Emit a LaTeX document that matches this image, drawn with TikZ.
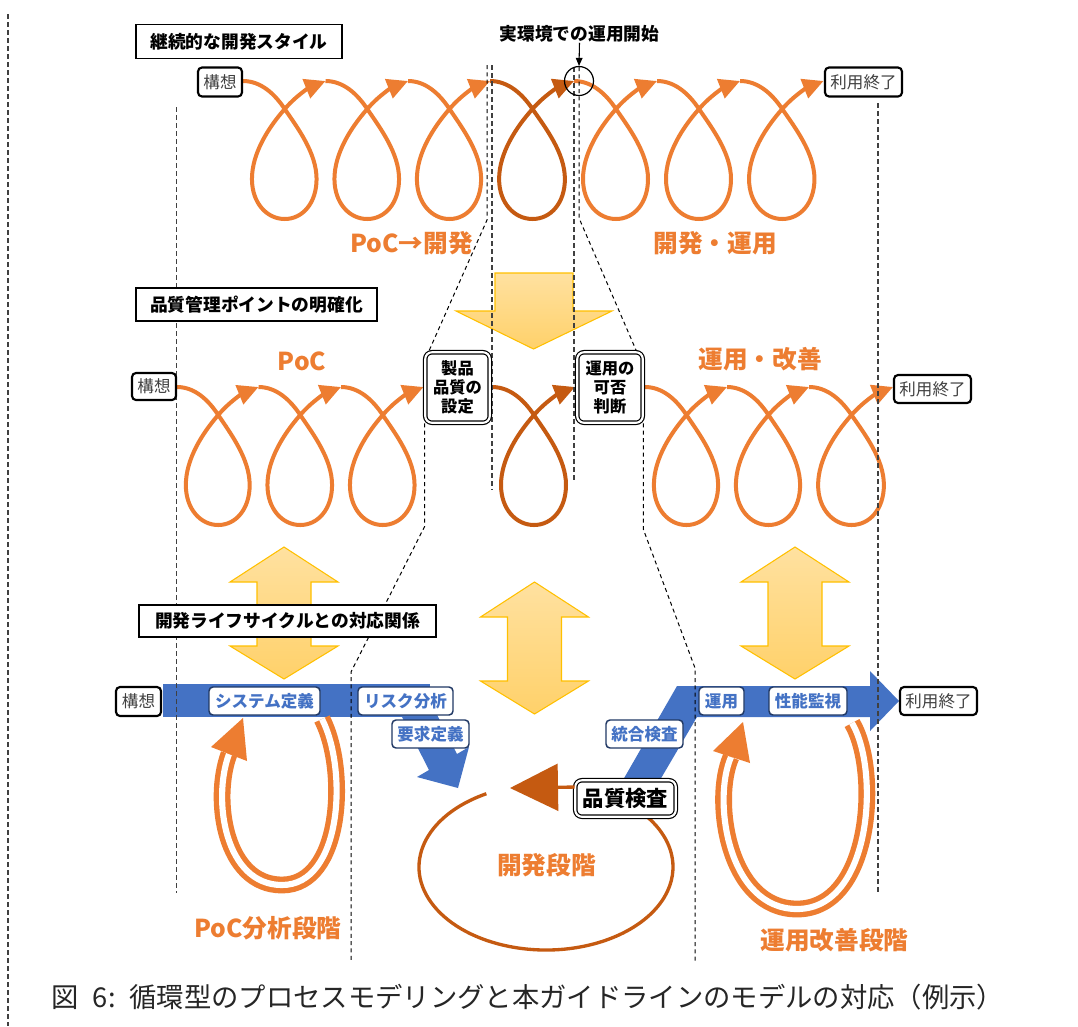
\documentclass[tikz,border=0pt]{standalone}
\usepackage{fontspec}
\setmainfont{Noto Sans CJK JP}
\usetikzlibrary{arrows.meta}
\definecolor{orangeC}{HTML}{ED7D31}
\definecolor{darkO}{HTML}{C55A11}
\definecolor{blueB}{HTML}{4472C4}
\definecolor{navyB}{HTML}{203864}
\definecolor{yTop}{HTML}{FFE1A0}
\definecolor{yBot}{HTML}{FFD16A}
\definecolor{yEdge}{HTML}{FFC000}
\definecolor{grayT}{HTML}{404040}
\definecolor{grayL}{HTML}{404040}
\pgfdeclarelayer{back}
\pgfdeclarelayer{mid}
\pgfsetlayers{back,mid,main}
\newcommand{\Spiral}[4]{%
  \begin{scope}[shift={(#1,#3)}, xscale=#2/83]
    \draw[#4] (0,0) .. controls (18,0) and (32,13) .. (42,28)
      .. controls (55,47) and (74,72) .. (74,98)
      .. controls (74,122) and (60,138) .. (42,138)
      .. controls (24,138) and (9,122) .. (9,98)
      .. controls (9,72) and (26,46) .. (42,28)
      .. controls (54,14) and (68,6) .. (83,0);
  \end{scope}}
\newcommand{\DArrow}[3]{%
  \path[yarrow] (#1,#2) -- ++(54,35) -- ++(-27,0) -- (#1+27,#3-33) -- ++(27,0)
    -- (#1,#3) -- ++(-54,-33) -- ++(27,0) -- (#1-27,#2+35) -- ++(-27,0) -- cycle;}
\tikzset{
  sz/.style 2 args={minimum width=#1*0.75pt, minimum height=#2*0.75pt},
  oloop/.style={draw=orangeC, line width=3pt, -{Triangle[length=15.5pt,width=15pt]}},
  dloop/.style={draw=darkO, line width=3pt, -{Triangle[length=15.5pt,width=15pt]}},
  yarrow/.style={top color=yTop, bottom color=yBot, draw=yEdge, line width=0.8pt},
  tbox/.style={draw, line width=1.1pt, fill=white, inner sep=0pt,
    font=\fontsize{13.3}{16}\selectfont\bfseries},
  rbox/.style={draw, line width=1.6pt, rounded corners=3pt, fill=white, inner sep=0pt,
    text=grayT, font=\fontsize{12.4}{15}\selectfont},
  dbox/.style={draw, double, double distance=1.6pt, line width=0.9pt, rounded corners=5pt,
    fill=white, inner sep=0pt, align=center, font=\fontsize{12.2}{14.3}\selectfont\bfseries},
  blab/.style={draw=navyB, line width=1.1pt, rounded corners=3pt, fill=white, inner sep=0pt,
    text=blueB, font=\fontsize{12.4}{15}\selectfont\bfseries},
  otext/.style={text=orangeC, inner sep=0pt, font=\fontsize{18.5}{22}\selectfont\bfseries},
  vdash/.style={draw=grayL, line width=1.1pt, dash pattern=on 3.5pt off 2.5pt},
  ddash/.style={draw=black, line width=0.75pt, dash pattern=on 3pt off 2.5pt},
  ushape/.style={draw=orangeC, line width=4pt, double=white, double distance=4.6pt},
  devline/.style={draw=darkO, line width=2.5pt},
}
\begin{document}
\begin{tikzpicture}[x=0.75pt, y=-0.75pt]
\useasboundingbox (0,0) rectangle (1078,1026);

% ---------- nodes ----------
\node[tbox, sz={206}{34}] (t1) at (239,41.5) {継続的な開発スタイル};
\node[tbox, sz={241}{33}] (t2) at (256.5,304.5) {品質管理ポイントの明確化};
\node[tbox, sz={297}{32}] (t3) at (287.5,621) {開発ライフサイクルとの対応関係};

\node[inner sep=0pt, font=\fontsize{13.3}{16}\selectfont\bfseries] (jitsu) at (579.5,34) {実環境での運用開始};
\node[circle, draw, line width=0.9pt, minimum size=21.75pt, inner sep=0pt] (circ) at (579,81) {};

\node[rbox, sz={44}{29}] (k1) at (220,82) {構想};
\node[rbox, sz={77}{29}] (e1) at (863.5,82) {利用終了};
\node[rbox, sz={44}{27}] (k2) at (154,386.5) {構想};
\node[rbox, sz={77}{28}] (e2) at (932.5,389) {利用終了};
\node[rbox, sz={45}{29}] (k3) at (138.5,701.5) {構想};
\node[rbox, sz={77}{28}] (e3) at (938.5,701) {利用終了};

\node[dbox, sz={64.5}{70.5}] (q1) at (457.5,387.5) {製品\\品質の\\設定};
\node[dbox, sz={65.5}{70.5}] (q2) at (610,387.5) {運用の\\可否\\判断};
\node[dbox, sz={100.5}{36.5}, font=\fontsize{16}{19}\selectfont\bfseries] (q3) at (625.5,798.5) {品質検査};

\node[blab, sz={111}{28}] (s1) at (264.5,701) {システム定義};
\node[blab, sz={95}{28}] (s2) at (405.5,701) {リスク分析};
\node[blab, sz={77}{28}] (s3) at (430.5,734) {要求定義};
\node[blab, sz={77}{28}] (s4) at (644.5,734) {統合検査};
\node[blab, sz={45}{28}] (s5) at (721.5,701) {運用};
\node[blab, sz={78}{28}] (s6) at (808,701) {性能監視};

\node[otext] (lab1) at (411.5,243) {PoC→開発};
\node[otext] (lab2) at (715,243) {開発・運用};
\node[otext] (lab3) at (302,361) {PoC};
\node[otext] (lab4) at (760,359) {運用・改善};
\node[otext] (lab5) at (268,928) {PoC分析段階};
\node[otext] (lab6) at (546.5,865) {開発段階};
\node[otext] (lab7) at (834.5,940) {運用改善段階};

\node[inner sep=0pt, text=black!85, font=\fontsize{20.5}{24}\selectfont] (cap) at (528,997)
  {図\hspace{0.5em}6:\hspace{0.5em}循環型のプロセスモデリングと本ガイドラインのモデルの対応（例示）};

\draw[line width=0.8pt, -{Triangle[length=6pt,width=5pt]}] (jitsu.south) -- (circ.north);
\draw[devline, -{Triangle[length=36pt,width=35pt]}] ([yshift=8.6pt]q3.west) -- (510,788);

% ---------- background: arrows and band ----------
\begin{pgfonlayer}{back}
  \fill[white] (0,0) rectangle (1078,1026);
  \path[yarrow] (495,273) -- (573,273) -- (573,311) -- (612,311) -- (533.5,349)
    -- (456,311) -- (495,311) -- cycle;
  \DArrow{284}{547}{679}
  \DArrow{534.5}{582}{714}
  \DArrow{795}{547}{679}
  \fill[blueB] (163,684) rectangle (430,717);
  \fill[blueB] (400,713) -- (429,770) -- (417,777) -- (458,788) -- (469,747)
    -- (457,754) -- (428,697) -- cycle;
  \fill[blueB] (623,780) -- (677,686) -- (870,686) -- (870,671) -- (899,701)
    -- (870,731) -- (870,717) -- (697,717) -- (660,780) -- cycle;
\end{pgfonlayer}

% ---------- middle: loops and guide lines ----------
\begin{pgfonlayer}{mid}
  % row 1
  \Spiral{243}{82.5}{81}{oloop}
  \Spiral{325.5}{82.5}{81}{oloop}
  \Spiral{408}{82}{81}{oloop}
  \Spiral{490}{84}{81}{dloop}
  \Spiral{574}{83}{81}{oloop}
  \Spiral{657}{83}{81}{oloop}
  \Spiral{740}{83.5}{81}{oloop}
  % row 2
  \Spiral{177}{81.5}{387}{oloop}
  \Spiral{258.5}{82.5}{387}{oloop}
  \Spiral{341}{82.5}{387}{oloop}
  \Spiral{492}{83}{387}{dloop}
  \Spiral{645}{82}{387}{oloop}
  \Spiral{727}{82}{387}{oloop}
  \Spiral{809}{84}{387}{oloop}
  % row 3 cycles
  \draw[ushape] (322,719) .. controls (348,770) and (342,885) .. (282,885)
    .. controls (225,885) and (212,800) .. (229,754);
  \fill[orangeC] (243,718) -- (211,747) -- (247,761) -- cycle;
  \draw[ushape] (852,723) .. controls (880,770) and (872,909) .. (797,909)
    .. controls (728,909) and (712,800) .. (731,757);
  \fill[orangeC] (743,722) -- (713,751) -- (750,763) -- cycle;
  \draw[devline] (546,867) ++(242:127 and 83) arc[start angle=242, end angle=-37, x radius=127, y radius=83];
  % guide lines
  \draw[vdash] (8,14) -- (8,1026);
  \draw[vdash] (176.6,107) -- (176.6,893);
  \draw[vdash] (878,103) -- (878,893);
  \draw[vdash] (492,65) -- (492,490);
  \draw[vdash] (574,67) -- (574,482);
  \draw[ddash] (487,65) -- (487,220) -- ([xshift=3pt]q1.north west);
  \draw[ddash] (q1.south west) -- ++(0,103) -- (351,672) -- (351,962);
  \draw[ddash] (579,67) -- (579,218) -- ([xshift=-5pt]q2.north east);
  \draw[ddash] (q2.south east) -- ++(0,106) -- (695,668) -- (695,962);
\end{pgfonlayer}
\end{tikzpicture}
\end{document}
